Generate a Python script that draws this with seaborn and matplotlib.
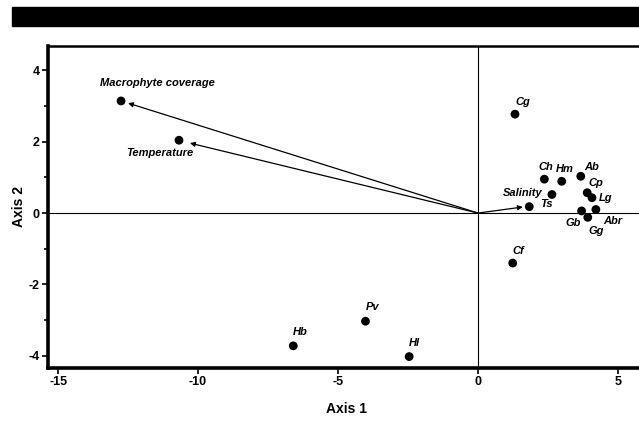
import matplotlib
matplotlib.use('Agg')
import matplotlib.pyplot as plt
import seaborn as sns
import pandas as pd
from matplotlib.patches import Rectangle
from matplotlib.ticker import MultipleLocator

# ordination scores
labels = ['Macrophyte coverage', 'Temperature', 'Salinity', 'Cg', 'Ch', 'Hm', 'Ab', 'Cp', 'Lg',
          'Gb', 'Abr', 'Gg', 'Ts', 'Cf', 'Hb', 'Pv', 'Hl']
axis1 = [-12.75, -10.68, 1.83, 1.32, 2.37, 2.99, 3.67, 3.90, 4.07,
         3.70, 4.21, 3.92, 2.64, 1.24, -6.60, -4.02, -2.46]
axis2 = [3.14, 2.04, 0.18, 2.77, 0.95, 0.89, 1.03, 0.57, 0.43,
         0.06, 0.10, -0.12, 0.52, -1.40, -3.72, -3.03, -4.02]
# label offsets (points)
lab_dx = [26, -14, -5, 6, 1, 2, 8, 6, 10, -6, 12, 6, -4, 4, 5, 5, 4]
lab_dy = [13, -9, 10, 9, 9, 9, 7, 7, 0, -9, -8, -10, -7, 9, 10, 10, 10]

# environmental vectors (arrow tips)
env_names = ['Macrophyte coverage', 'Temperature', 'Salinity']
env_x = [-12.5, -10.29, 1.6]
env_y = [3.08, 1.96, 0.17]

df = pd.DataFrame({'label': labels, 'Axis 1': axis1, 'Axis 2': axis2})

sns.set_style('ticks')
plt.rcParams['font.family'] = ['Liberation Sans Narrow', 'Liberation Sans', 'DejaVu Sans']
plt.rcParams['axes.unicode_minus'] = False
plt.rcParams['text.color'] = 'black'
plt.rcParams['axes.labelcolor'] = 'black'
plt.rcParams['xtick.color'] = 'black'
plt.rcParams['ytick.color'] = 'black'

fig = plt.figure(figsize=(6.39, 4.22), dpi=100)
W, H = 639, 422
ax = fig.add_axes([48 / W, 1 - 368 / H, 598 / W, 322 / H])

# black banner at the top
fig.patches.append(Rectangle((12 / W, 1 - 26 / H), 1, 19 / H, transform=fig.transFigure,
                             color='black', zorder=0))

ax.axhline(0, color='black', lw=0.8, zorder=1)
ax.axvline(0, color='black', lw=0.8, zorder=1)

for nx, ny in zip(env_x, env_y):
    ax.annotate('', xy=(nx, ny), xytext=(0, 0),
                arrowprops=dict(arrowstyle='-|>', color='black', lw=0.9,
                                mutation_scale=7, shrinkA=0, shrinkB=0))

sns.scatterplot(data=df, x='Axis 1', y='Axis 2', color='black', s=40,
                edgecolor='none', ax=ax, zorder=3)

for lab, x, y, dx, dy in zip(labels, axis1, axis2, lab_dx, lab_dy):
    ax.annotate(lab, (x, y), xytext=(dx, dy), textcoords='offset points',
                ha='center', va='center', fontsize=8, fontweight='bold',
                fontstyle='italic', color='black')

ax.set_xlim(-15.36, 6.0)
ax.set_ylim(-4.34, 4.68)
ax.set_xticks([-15, -10, -5, 0, 5])
ax.set_yticks([-4, -2, 0, 2, 4])
ax.yaxis.set_minor_locator(MultipleLocator(1))
ax.tick_params(which='both', direction='out', width=1.2, labelsize=9, pad=2)
ax.tick_params(which='major', length=4)
ax.tick_params(which='minor', length=3)
for t in ax.get_xticklabels() + ax.get_yticklabels():
    t.set_fontweight('bold')

ax.set_xlabel('Axis 1', fontsize=10, fontweight='bold')
ax.set_ylabel('Axis 2', fontsize=10, fontweight='bold',
              family=['Liberation Sans', 'DejaVu Sans'])
ax.xaxis.set_label_coords(0.5, -0.105)
ax.yaxis.set_label_coords(-0.037, 0.5)

ax.spines['left'].set_linewidth(2.6)
ax.spines['bottom'].set_linewidth(2.6)
ax.spines['top'].set_linewidth(1.8)
ax.spines['right'].set_visible(False)
for s in ax.spines.values():
    s.set_color('black')

fig.savefig('out.png', dpi=100)
